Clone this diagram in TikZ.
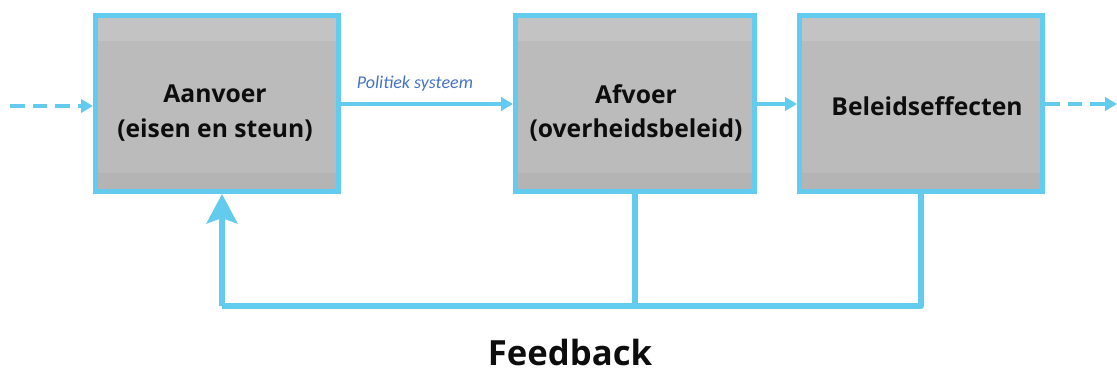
\documentclass[tikz,border=0pt]{standalone}
\usepackage{fontspec}
\setmainfont{Open Sans}
\newfontfamily\carl{Carlito}
\usetikzlibrary{arrows.meta}
\definecolor{cyanb}{HTML}{62CBEE}
\definecolor{boxgray}{HTML}{BBBBBB}
\definecolor{boxtop}{HTML}{C3C3C3}
\definecolor{boxbot}{HTML}{B4B4B4}
\definecolor{lblblue}{HTML}{4472C4}
\tikzset{
  blockbox/.style={draw=cyanb, line width=3.75pt, fill=boxgray, minimum height=132pt,
    path picture={
      \fill[boxtop] (path picture bounding box.north west) rectangle ([yshift=-19pt]path picture bounding box.north east);
      \fill[boxbot] (path picture bounding box.south west) rectangle ([yshift=14pt]path picture bounding box.south east);
    }},
  boxtext/.style={align=center, font=\bfseries\fontsize{18.5}{26}\selectfont, text=black!95, inner sep=0pt},
  thinarrow/.style={draw=cyanb, line width=2.4pt, -{Triangle[length=9pt,width=10pt]}},
  dasharrow/.style={thinarrow, dash pattern=on 11pt off 6pt},
  fbline/.style={draw=cyanb, line width=4.6pt, line join=round},
}
\begin{document}
\begin{tikzpicture}[x=0.75pt,y=-0.75pt]
\useasboundingbox (0,0) rectangle (1117,374);
\node[blockbox, minimum width=182.25pt] (aan) at (217,103.5) {};
\node[blockbox, minimum width=179.25pt] (af) at (635,103.5) {};
\node[blockbox, minimum width=182.25pt] (bel) at (921,103.5) {};
\node[boxtext] (aant) at (215,113) {Aanvoer\\(eisen en steun)};
\node[boxtext] (aft) at (636,113) {Afvoer\\(overheidsbeleid)};
\node[boxtext] (belt) at (927,106) {Beleidseffecten};
\coordinate (inL) at (10,106);
\coordinate (outR) at (1117,104);
\coordinate (fb) at (222,306);
\draw[dasharrow] (inL) -- (aan.west |- inL);
\draw[thinarrow] (aan.east |- 0,104) -- node[above=5pt, font=\carl\itshape\fontsize{13.5}{15}\selectfont, text=lblblue, pos=0.43] (pol) {Politiek systeem} (af.west |- 0,104);
\draw[thinarrow] (af.east |- 0,104) -- (bel.west |- 0,104);
\draw[dasharrow] (bel.east |- outR) -- (outR);
\draw[fbline] (af.south) -- (af.south |- fb);
\draw[fbline] (bel.south) -- (bel.south |- fb) -- (fb);
\draw[fbline, -{Stealth[length=22pt,width=23pt,inset=4pt]}] (fb) -- (fb |- aan.south);
\node[font=\bfseries\fontsize{26}{28}\selectfont, text=black!95, anchor=base, inner sep=0pt] (feed) at (570,365) {Feedback};
\end{tikzpicture}
\end{document}
